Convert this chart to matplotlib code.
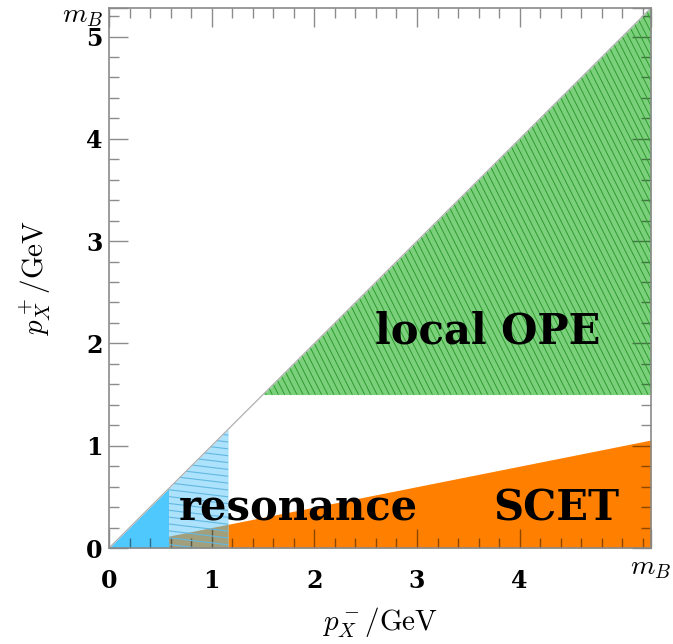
import numpy as np
import matplotlib
matplotlib.use("Agg")
import matplotlib.pyplot as plt
from matplotlib.collections import LineCollection
from matplotlib.patches import Polygon
from matplotlib.transforms import ScaledTranslation

plt.rcParams['mathtext.fontset'] = 'cm'

# ---- data ----
mB = 5.279
x_res1 = 0.58     # end of solid resonance region
x_res2 = 1.16     # end of hatched resonance region
scet_slope = 0.2  # SCET region upper boundary p+ = slope * p-
ope_min = 1.5     # local OPE lower boundary in p+
xticks = [0, 1, 2, 3, 4, mB]
xticklabels = ['0', '1', '2', '3', '4', r'$m_B$']
yticks = [0, 1, 2, 3, 4, 5, mB]
yticklabels = ['0', '1', '2', '3', '4', '5', r'$m_B$']

# ---- colours ----
c_blue = '#4fc8fd'
c_lblue = '#ace2fb'
c_bhatch = '#62b8e2'
c_orange = '#ff8000'
c_olive = '#a19f7c'
c_green = '#7bd17b'
c_ghatch = '#2f9a2f'

fig = plt.figure(figsize=(6.73, 6.44), dpi=100)
ax = fig.add_axes([109/673, 1-548/644, (651-109)/673, (548-8)/644])
ax.set_xlim(0, mB)
ax.set_ylim(0, mB)

# solid resonance
xs = np.array([0, x_res1])
ax.fill_between(xs, 0, xs, color=c_blue, lw=0)
# hatched resonance
xh = np.array([x_res1, x_res2])
ax.fill_between(xh, 0, xh, color=c_lblue, lw=0)
# SCET
xo = np.array([x_res2, mB])
ax.fill_between(xo, 0, scet_slope * xo, color=c_orange, lw=0)
# overlap
ax.fill_between(xh, 0, scet_slope * xh, color=c_olive, lw=0)
# hatch lines for resonance region
res_poly = Polygon([[x_res1, 0], [x_res2, 0], [x_res2, x_res2], [x_res1, x_res1]],
                   closed=True, transform=ax.transData, facecolor='none', edgecolor='none')
ax.add_patch(res_poly)
segs = []
for c in np.arange(-0.5, 1.6, 0.067):
    segs.append([[x_res1 - 0.1, c + 0.01], [x_res2 + 0.1, c - 0.12 * (x_res2 - x_res1 + 0.2) + 0.01]])
lc = LineCollection(segs, colors=c_bhatch, linewidths=0.8)
ax.add_collection(lc)
lc.set_clip_path(res_poly)

# local OPE
xg = np.array([ope_min, mB])
ax.fill_between(xg, ope_min, xg, color=c_green, lw=0)
ope_poly = Polygon([[ope_min, ope_min], [mB, mB], [mB, ope_min]], closed=True,
                   transform=ax.transData, facecolor='none', edgecolor='none')
ax.add_patch(ope_poly)
segs = []
for c in np.arange(0.0, 10.0, 0.06):
    segs.append([[c, 0], [c - 3.0, 6.0]])
lc2 = LineCollection(segs, colors=c_ghatch, linewidths=0.7)
ax.add_collection(lc2)
lc2.set_clip_path(ope_poly)

# diagonal
ax.plot([0, mB], [0, mB], color='#b0b0b0', lw=0.9)

# texts
big = dict(family='DejaVu Serif', weight='bold', fontsize=30, va='baseline', ha='center')
ax.text(3.69, 2.0, 'local OPE', **big)
ax.text(1.84, 0.27, 'resonance', **big)
ax.text(4.36, 0.27, 'SCET', **big)

# ticks
ax.set_xticks(xticks, xticklabels)
ax.set_yticks(yticks, yticklabels)
for lab in ax.get_xticklabels() + ax.get_yticklabels():
    if lab.get_text().startswith('$'):
        lab.set_fontsize(20)
    else:
        lab.set_family('DejaVu Serif')
        lab.set_weight('bold')
        lab.set_fontsize(17)
ax.set_xticks(np.arange(0.2, mB, 0.2), minor=True)
ax.set_yticks(np.arange(0.2, mB, 0.2), minor=True)
tcol = (0, 0, 0, 0.45)
ax.tick_params(which='major', direction='in', length=14, width=1.0, color=tcol,
               top=True, right=True)
ax.tick_params(which='minor', direction='in', length=7, width=1.0, color=tcol,
               top=True, right=True)
ax.tick_params(axis='x', which='major', pad=15)
ax.tick_params(axis='y', which='major', pad=4.5)
for s in ax.spines.values():
    s.set_color('#8a8a8a')
    s.set_linewidth(1.2)
    s.set_zorder(5)

lab = ax.get_xticklabels()[-1]
lab.set_transform(lab.get_transform() + ScaledTranslation(0, 16/100, fig.dpi_scale_trans))
lab = ax.get_yticklabels()[-1]
lab.set_transform(lab.get_transform() + ScaledTranslation(0, -4/100, fig.dpi_scale_trans))

ax.set_xlabel(r'$p_X^-/\mathrm{GeV}$', fontsize=21, labelpad=9)
ax.set_ylabel(r'$p_X^+/\mathrm{GeV}$', fontsize=21, labelpad=6)

fig.savefig('out.png', dpi=100)
